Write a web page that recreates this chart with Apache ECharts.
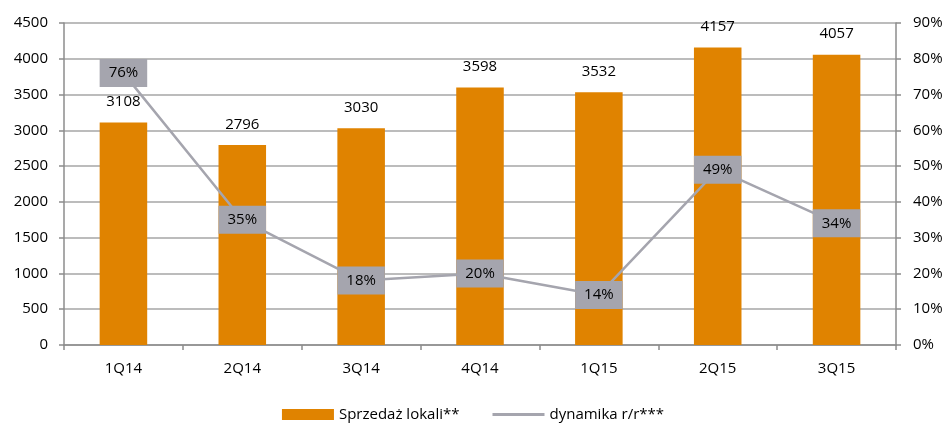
<!DOCTYPE html>
<html>
<head>
<meta charset="utf-8">
<script src="https://cdn.jsdelivr.net/npm/echarts@6/dist/echarts.min.js"></script>
<style>html,body{margin:0;padding:0;background:#fff}#c{width:946px;height:424px}</style>
</head>
<body>
<div id="c"></div>
<script>
const categories = ['1Q14','2Q14','3Q14','4Q14','1Q15','2Q15','3Q15'];
const salesValues = [3108, 2796, 3030, 3598, 3532, 4157, 4057];
const dynamicsValues = [76, 35, 18, 20, 14, 49, 34];
const leftTicks = {min: 0, max: 4500, interval: 500};
const rightTicks = {min: 0, max: 90, interval: 10};
const seriesNames = ['Sprzedaż lokali**', 'dynamika r/r***'];

const font = 'Open Sans';
const fs = 15;
const chart = echarts.init(document.getElementById('c'), null, {renderer: 'canvas'});
chart.setOption({
  animation: false,
  textStyle: {fontFamily: font},
  grid: {left: 64, right: 50, top: 23, bottom: 79, containLabel: false},
  legend: {
    bottom: -3,
    left: 'center',
    itemGap: 33,
    itemWidth: 52,
    itemHeight: 11,
    textStyle: {fontFamily: font, fontSize: fs, color: '#000'},
    data: [
      {name: seriesNames[0], icon: 'rect'},
      {name: seriesNames[1], icon: 'path://M0,0 L52,0 L52,3 L0,3 Z', itemStyle: {color: '#a5a5ae'}}
    ]
  },
  xAxis: {
    type: 'category',
    data: categories,
    axisLine: {lineStyle: {color: '#8c8c8c', width: 1.5}},
    axisTick: {show: true, length: 5, lineStyle: {color: '#8c8c8c', width: 1.5}},
    axisLabel: {color: '#000', fontSize: fs, fontFamily: font, margin: 16}
  },
  yAxis: [
    {
      type: 'value', min: leftTicks.min, max: leftTicks.max, interval: leftTicks.interval,
      axisLine: {show: true, lineStyle: {color: '#8c8c8c', width: 1.5}},
      axisTick: {show: true, length: 5, lineStyle: {color: '#8c8c8c', width: 1.5}},
      splitLine: {lineStyle: {color: '#a6a6a6', width: 1.5}},
      axisLabel: {color: '#000', fontSize: fs, fontFamily: font, margin: 16, formatter: v => String(v)}
    },
    {
      type: 'value', min: rightTicks.min, max: rightTicks.max, interval: rightTicks.interval,
      axisLine: {show: true, lineStyle: {color: '#8c8c8c', width: 1.5}},
      axisTick: {show: true, length: 5, lineStyle: {color: '#8c8c8c', width: 1.5}},
      splitLine: {show: false},
      axisLabel: {color: '#000', fontSize: fs, fontFamily: font, margin: 17, formatter: v => v + '%'}
    }
  ],
  series: [
    {
      name: seriesNames[0],
      type: 'bar',
      yAxisIndex: 0,
      data: salesValues,
      barWidth: '40%',
      itemStyle: {color: '#e08300'},
      label: {show: true, position: 'top', distance: 13, color: '#000', fontSize: fs, fontFamily: font, formatter: p => String(p.value)}
    },
    {
      name: seriesNames[1],
      type: 'line',
      yAxisIndex: 1,
      data: dynamicsValues,
      symbol: 'circle',
      symbolSize: 1,
      showSymbol: true,
      lineStyle: {color: '#a5a5ae', width: 2.5},
      itemStyle: {color: '#a5a5ae'},
      z: 5,
      label: {
        show: true, position: 'inside', formatter: '{c}%',
        backgroundColor: '#a5a5ae', padding: [7, 9, 6, 9],
        color: '#000', fontSize: fs, fontFamily: font
      }
    }
  ]
});
</script>
</body>
</html>
